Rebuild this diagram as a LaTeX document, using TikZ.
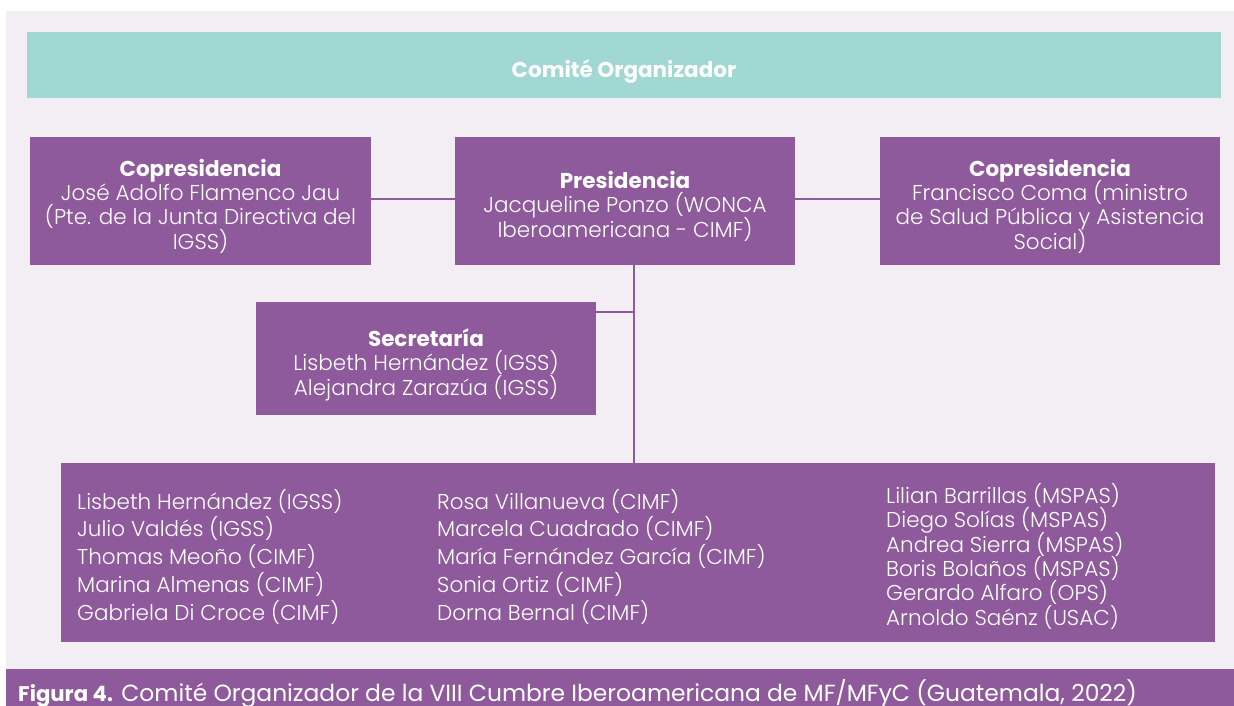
\documentclass[tikz,border=0pt]{standalone}
\usepackage{fontspec}
\setmainfont{Poppins}[UprightFont=* Light,BoldFont=* Bold]
\newfontfamily\pieletra{Poppins}[BoldFont=* Bold]
\usepackage{tikz}
\definecolor{lila}{HTML}{8E5A9B}
\definecolor{fondo}{HTML}{F3EEF4}
\definecolor{turquesa}{HTML}{A2D8D3}
\newcommand\apretar{\lineskiplimit=-20pt\relax}
\tikzset{
  caja/.style={fill=lila,inner sep=0pt},
  texto/.style={text=white,align=center,inner sep=0pt,
    font=\fontsize{21.5}{24.4}\selectfont\apretar},
  lista/.style={text=white,align=left,inner sep=0pt,anchor=north west},
  linea/.style={draw=lila,line width=2.5pt}
}

\begin{document}
\begin{tikzpicture}[x=1pt,y=-1pt]
			\useasboundingbox (0,0) rectangle (1234,706);
			\fill[fondo] (6,11) rectangle (1234,669);
			\fill[lila] (6,669) rectangle (1234,706);
			\node[fill=turquesa,minimum width=1194pt,minimum height=66pt,inner sep=0pt] (comite) at (624,65) {};
			\node[texto,font=\fontsize{21.5}{24}\selectfont\bfseries] at ([yshift=-6pt]comite.center) {Comité Organizador};
			% cajas
			\node[caja,minimum width=341pt,minimum height=128pt] (copizq) at (200.5,201) {};
			\node[caja,minimum width=340pt,minimum height=128pt] (pres) at (625,201) {};
			\node[caja,minimum width=340pt,minimum height=128pt] (copder) at (1050,201) {};
			\node[caja,minimum width=340pt,minimum height=113pt] (secre) at (426,358.5) {};
			\node[caja,minimum width=1154pt,minimum height=179pt] (miembros) at (638,552.5) {};
			\node[texto] at ([yshift=-5pt]copizq.center) {\textbf{Copresidencia}\\José Adolfo Flamenco Jau\\(Pte. de la Junta Directiva del\\IGSS)};
			\node[texto] at ([yshift=-5pt]pres.center) {\textbf{Presidencia}\\Jacqueline Ponzo (WONCA\\Iberoamericana - CIMF)};
			\node[texto] at ([yshift=-5pt]copder.center) {\textbf{Copresidencia}\\Francisco Coma (ministro\\de Salud Pública y Asistencia\\Social)};
			\node[texto] at ([yshift=-6pt]secre.center) {\textbf{Secretaría}\\Lisbeth Hernández (IGSS)\\Alejandra Zarazúa (IGSS)};
			% columnas de miembros
			\node[lista,font=\fontsize{21.5}{27.7}\selectfont\apretar] (col1) at (77,489) {Lisbeth Hernández (IGSS)\\Julio Valdés (IGSS)\\Thomas Meoño (CIMF)\\Marina Almenas (CIMF)\\Gabriela Di Croce (CIMF)};
			\node[lista,font=\fontsize{21.5}{27.7}\selectfont\apretar] (col2) at (437,489) {Rosa Villanueva (CIMF)\\Marcela Cuadrado (CIMF)\\María Fernández García (CIMF)\\Sonia Ortiz (CIMF)\\Dorna Bernal (CIMF)};
			\node[lista,font=\fontsize{21.5}{24.4}\selectfont\apretar] (col3) at (886,483) {Lilian Barrillas (MSPAS)\\Diego Solías (MSPAS)\\Andrea Sierra (MSPAS)\\Boris Bolaños (MSPAS)\\Gerardo Alfaro (OPS)\\Arnoldo Saénz (USAC)};
			% conectores
			\coordinate (nudo) at (634,312);
			\draw[linea] ([yshift=2pt]copizq.east) -- ([yshift=2pt]pres.west);
			\draw[linea] ([yshift=2pt]pres.east) -- ([yshift=2pt]copder.west);
			\draw[linea] (pres.south -| nudo) -- (miembros.north -| nudo);
			\draw[linea] (secre.east |- nudo) -- (nudo);
			\node[anchor=west,text=white,inner sep=0pt,font=\fontsize{23.4}{24}\pieletra] (pie) at (18,694) {{\fontsize{21.2}{24}\selectfont\bfseries Figura 4.} Comité Organizador de la VIII Cumbre Iberoamericana de MF/MFyC (Guatemala, 2022)};
		\end{tikzpicture}
\end{document}
